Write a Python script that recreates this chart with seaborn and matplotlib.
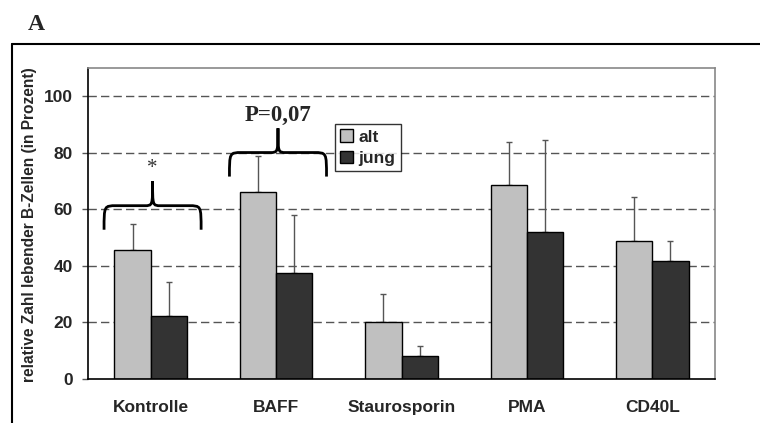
import numpy as np
import pandas as pd
import matplotlib
matplotlib.use("Agg")
import matplotlib.pyplot as plt
from matplotlib.path import Path
from matplotlib.patches import PathPatch, Patch
from matplotlib.lines import Line2D
import seaborn as sns

# Data
kategorien = ["Kontrolle", "BAFF", "Staurosporin", "PMA", "CD40L"]
gruppen = ["alt", "jung"]
alt_mw = [45.7, 66.2, 20.0, 68.7, 48.8]
jung_mw = [22.4, 37.6, 8.2, 52.0, 41.7]
alt_sd = [9.1, 12.6, 10.0, 15.3, 15.5]
jung_sd = [12.0, 20.3, 3.4, 32.6, 7.0]
yticks = [0, 20, 40, 60, 80, 100]
# significance braces: category index, brace level, label
klammer_kat = [0, 1]
klammer_y = [61.3, 80.1]
klammer_text = ["*", "P=0,07"]

df = pd.DataFrame({
    "Kategorie": kategorien * 2,
    "Gruppe": ["alt"] * 5 + ["jung"] * 5,
    "Wert": alt_mw + jung_mw,
})

sns.set_style("white")
plt.rcParams["font.family"] = ["Liberation Sans", "DejaVu Sans"]

fig = plt.figure(figsize=(7.6, 4.23), dpi=100)
ax = fig.add_axes([88 / 760, 44 / 423, 627 / 760, 311 / 423])

farben = {"alt": "#c0c0c0", "jung": "#333333"}
sns.barplot(data=df, x="Kategorie", y="Wert", hue="Gruppe", palette=farben,
            width=0.58, errorbar=None, edgecolor="black", linewidth=1,
            ax=ax, zorder=2, legend=False)

# error bars (upper only)
for cont, sd in zip(ax.containers, [alt_sd, jung_sd]):
    xs = [b.get_x() + b.get_width() / 2 for b in cont]
    ys = [b.get_height() for b in cont]
    ax.errorbar(xs, ys, yerr=[np.zeros(len(sd)), sd], fmt="none",
                ecolor="#555555", elinewidth=1, capsize=2.5, capthick=1, zorder=1.5)

# grid
for yv in yticks[1:]:
    ax.axhline(yv, color="#555555", lw=1, ls=(0, (6, 3)), zorder=0.5)

ax.set_ylim(0, 110)
ax.set_xlim(-0.5, 4.5)
ax.set_yticks(yticks)
ax.set_yticklabels([str(v) for v in yticks], fontsize=12.5, fontweight="bold")
ax.set_xticks(range(5))
ax.set_xticklabels(kategorien, fontsize=12.5, fontweight="bold")
ax.set_xticks(np.arange(-0.5, 5, 1), minor=True)
ax.tick_params(axis="x", which="major", length=0, pad=15)
ax.tick_params(axis="x", which="minor", length=4, color="#555555", direction="out", width=1)
ax.tick_params(axis="y", length=4, color="#555555", direction="out", width=1, pad=7, left=True)
ax.set_xlabel("")
ax.set_ylabel("relative Zahl lebender B-Zellen (in Prozent)", fontsize=11.2, fontweight="bold")
ax.yaxis.set_label_coords(-0.081, 0.495)

for s in ["left", "bottom"]:
    ax.spines[s].set_color("black")
    ax.spines[s].set_linewidth(1.2)
for s in ["top", "right"]:
    ax.spines[s].set_color("#888888")
    ax.spines[s].set_linewidth(1.2)


def klammer(xc, yh, half=0.387, rx=0.1, rp=0.065, down=8.5, up=8.6):
    x0, x1 = xc - half, xc + half
    ye, yp = yh - down, yh + up
    verts = [(x0, ye), (x0, yh), (x0, yh), (x0 + rx, yh),
             (xc - rp, yh), (xc, yh), (xc, yh), (xc, yp),
             (xc, yh), (xc, yh), (xc + rp, yh),
             (x1 - rx, yh), (x1, yh), (x1, yh), (x1, ye)]
    codes = [Path.MOVETO, Path.CURVE4, Path.CURVE4, Path.CURVE4,
             Path.LINETO, Path.CURVE4, Path.CURVE4, Path.CURVE4,
             Path.CURVE4, Path.CURVE4, Path.CURVE4,
             Path.LINETO, Path.CURVE4, Path.CURVE4, Path.CURVE4]
    ax.add_patch(PathPatch(Path(verts, codes), fill=False, lw=2, color="black",
                           zorder=4, capstyle="butt"))
    return yp


for k, yh, txt in zip(klammer_kat, klammer_y, klammer_text):
    xc = k + 0.015
    yp = klammer(xc, yh)
    if txt == "*":
        ax.text(xc, yp + 1.2, txt, ha="center", va="bottom", fontsize=15,
                family="Liberation Serif", color="#333333")
    else:
        ax.text(xc, yp + 0.8, txt, ha="center", va="bottom", fontsize=16.5,
                family="Liberation Serif", fontweight="bold")

handles = [Patch(facecolor=farben[g], edgecolor="black", lw=1, label=g) for g in gruppen]
leg = ax.legend(handles=handles, loc="upper left", bbox_to_anchor=(0.394, 0.82),
                borderaxespad=0, fancybox=False, frameon=True, fontsize=12.5,
                handlelength=0.75, handleheight=0.75, handletextpad=0.3,
                borderpad=0.3, labelspacing=0.35)
leg.get_frame().set_edgecolor("black")
leg.get_frame().set_linewidth(1)
for t in leg.get_texts():
    t.set_fontweight("bold")

# outer frame
fig.add_artist(Line2D([12 / 760, 1.0], [1 - 44 / 423] * 2, color="black", lw=1.5,
                      transform=fig.transFigure))
fig.add_artist(Line2D([12 / 760] * 2, [0, 1 - 44 / 423], color="black", lw=1.5,
                      transform=fig.transFigure))

fig.text(36 / 760, 1 - 25 / 423, "A", ha="center", va="center", fontsize=17,
         family="Liberation Serif", fontweight="bold")

fig.savefig("out.png", dpi=100)
